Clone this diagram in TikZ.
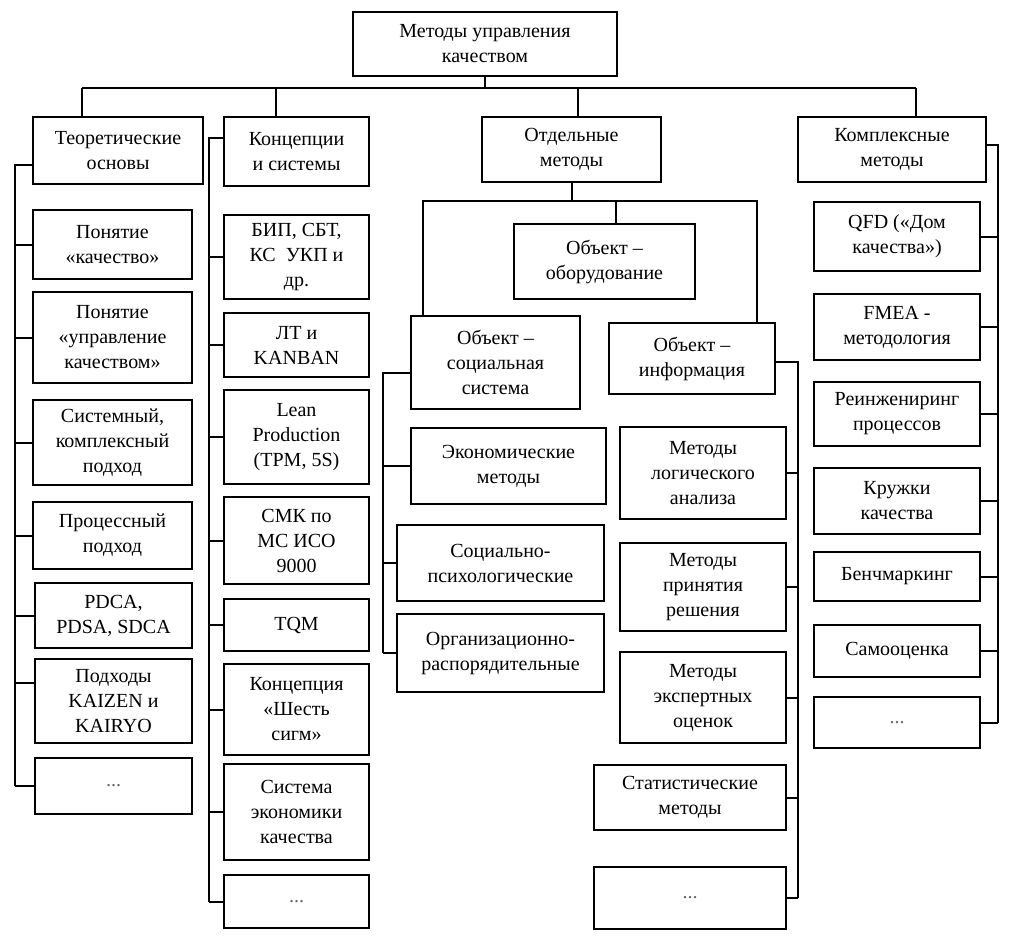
\documentclass[tikz,border=0pt]{standalone}
\usepackage{fontspec}
\setmainfont{Liberation Serif}

\begin{document}
\begin{tikzpicture}[x=1pt, y=-1pt, line width=2pt,
    box/.style={draw, anchor=north west, align=center, inner sep=1pt,
                font=\fontsize{20}{25}\selectfont},
    more/.style={box, text=black!60}]

    % Fix the page size to the reference
    \useasboundingbox (0,0) rectangle (1017,938);

    % Top box
    \node[box, minimum width=264, minimum height=64] (top) at (352,11) {Методы управления\\качеством};

    % First level
    \node[box, minimum width=170, minimum height=67] (teor) at (32,116) {Теоретические\\основы};
    \node[box, minimum width=145, minimum height=69] (konc) at (223,116) {Концепции\\и системы};
    \node[box, minimum width=179, minimum height=65] (otd) at (481,116) {Отдельные\\методы};
    \node[box, minimum width=188, minimum height=65] (kompl) at (797,116) {Комплексные\\методы};

    % Column 1: theoretical basis
    \node[box, minimum width=159, minimum height=69] (pon1) at (32,209) {Понятие\\«качество»};
    \node[box, minimum width=159, minimum height=91] (pon2) at (32,291) {Понятие\\«управление\\качеством»};
    \node[box, minimum width=159, minimum height=85] (sys) at (32,399) {Системный,\\комплексный\\подход};
    \node[box, minimum width=159, minimum height=67] (proc) at (32,501) {Процессный\\подход};
    \node[box, minimum width=157, minimum height=65] (pdca) at (34,582) {PDCA,\\PDSA, SDCA};
    \node[box, minimum width=157, minimum height=84] (kai) at (34,658) {Подходы\\KAIZEN и\\KAIRYO};
    \node[more, minimum width=157, minimum height=56] (dots1) at (34,757) {...};

    % Column 2: concepts and systems
    \node[box, minimum width=145, minimum height=84] (bip) at (223,214) {БИП, СБТ,\\КС\ \ УКП и\\др.};
    \node[box, minimum width=145, minimum height=64] (lt) at (223,312) {ЛТ и\\KANBAN};
    \node[box, minimum width=145, minimum height=94] (lean) at (223,389) {Lean\\Production\\(TPM, 5S)};
    \node[box, minimum width=145, minimum height=87] (smk) at (223,496) {СМК по\\МС ИСО\\9000};
    \node[box, minimum width=145, minimum height=52] (tqm) at (223,598) {TQM};
    \node[box, minimum width=145, minimum height=91] (six) at (223,663) {Концепция\\«Шесть\\сигм»};
    \node[box, minimum width=145, minimum height=96] (econ) at (223,763) {Система\\экономики\\качества};
    \node[more, minimum width=145, minimum height=53] (dots2) at (223,874) {...};

    % Middle: separate methods
    \node[box, minimum width=181, minimum height=75] (equip) at (513,223) {Объект –\\оборудование};
    \node[box, minimum width=169, minimum height=93] (soc) at (410,315) {Объект –\\социальная\\система};
    \node[box, minimum width=166, minimum height=71] (inf) at (608,322) {Объект –\\информация};

    \node[box, minimum width=195, minimum height=76] (ek) at (410,427) {Экономические\\методы};
    \node[box, minimum width=207, minimum height=76] (psy) at (396,524) {Социально-\\психологические};
    \node[box, minimum width=207, minimum height=78] (org) at (396,613) {Организационно-\\распорядительные};

    \node[box, minimum width=166, minimum height=92] (logic) at (619,426) {Методы\\логического\\анализа};
    \node[box, minimum width=166, minimum height=88] (prin) at (619,542) {Методы\\принятия\\решения};
    \node[box, minimum width=166, minimum height=91] (expert) at (619,651) {Методы\\экспертных\\оценок};
    \node[box, minimum width=192, minimum height=65] (stat) at (593,764) {Статистические\\методы};
    \node[more, minimum width=192, minimum height=62] (dots3) at (593,866) {...};

    % Right column: complex methods
    \node[box, minimum width=166, minimum height=69] (qfd) at (813,201) {QFD («Дом\\качества»)};
    \node[box, minimum width=166, minimum height=66] (fmea) at (813,293) {FMEA -\\методология};
    \node[box, minimum width=166, minimum height=64] (reeng) at (813,381) {Реинжениринг\\процессов};
    \node[box, minimum width=166, minimum height=66] (circ) at (813,467) {Кружки\\качества};
    \node[box, minimum width=166, minimum height=49] (bench) at (813,551) {Бенчмаркинг};
    \node[box, minimum width=166, minimum height=52] (self) at (813,624) {Самооценка};
    \node[more, minimum width=166, minimum height=51] (dots4) at (813,696) {...};

    % Bus under the top box
    \coordinate (b1) at (82,88);
    \coordinate (b2) at (276,88);
    \coordinate (b3) at (578,88);
    \coordinate (b4) at (916,88);
    \draw (top.south) -- (top.south |- b1);
    \draw (b1) -- (b4);
    \draw (b1) -- (b1 |- teor.north);
    \draw (b2) -- (b2 |- konc.north);
    \draw (b3) -- (b3 |- otd.north);
    \draw (b4) -- (b4 |- kompl.north);

    % Spine of column 1
    \coordinate (s1) at (15,165);
    \coordinate (kaic) at ([yshift=18pt]kai.west);
    \draw (s1 -| teor.west) -- (s1) -- (s1 |- dots1.west);
    \draw (pon1.west) -- (pon1.west -| s1);
    \draw (pon2.west) -- (pon2.west -| s1);
    \draw (sys.west) -- (sys.west -| s1);
    \draw (proc.west) -- (proc.west -| s1);
    \draw (pdca.west) -- (pdca.west -| s1);
    \draw (kaic) -- (kaic -| s1);
    \draw (dots1.west) -- (dots1.west -| s1);

    % Spine of column 2
    \coordinate (s2) at (209,138);
    \draw (s2 -| konc.west) -- (s2) -- (s2 |- dots2.west);
    \draw (bip.west) -- (bip.west -| s2);
    \draw (lt.west) -- (lt.west -| s2);
    \draw (lean.west) -- (lean.west -| s2);
    \draw (smk.west) -- (smk.west -| s2);
    \draw (tqm.west) -- (tqm.west -| s2);
    \draw (six.west) -- (six.west -| s2);
    \draw (econ.west) -- (econ.west -| s2);
    \draw (dots2.west) -- (dots2.west -| s2);

    % Frame of the three objects
    \coordinate (ml) at (423,201);
    \coordinate (me) at (616,201);
    \coordinate (mr) at (757,201);
    \draw (otd.south) -- (otd.south |- ml);
    \draw (ml |- soc.north) -- (ml) -- (mr) -- (mr |- inf.north);
    \draw (me) -- (me |- equip.north);

    % Spine of the social system
    \coordinate (s3) at (383,373);
    \draw (s3 -| soc.west) -- (s3) -- (s3 |- org.west);
    \draw (ek.west) -- (ek.west -| s3);
    \draw (psy.west) -- (psy.west -| s3);
    \draw (org.west) -- (org.west -| s3);

    % Spine of the information
    \coordinate (s4) at (798,362);
    \draw (s4 -| inf.east) -- (s4) -- (s4 |- dots3.east);
    \draw (logic.east) -- (logic.east -| s4);
    \draw (prin.east) -- (prin.east -| s4);
    \draw (expert.east) -- (expert.east -| s4);
    \draw (stat.east) -- (stat.east -| s4);
    \draw (dots3.east) -- (dots3.east -| s4);

    % Spine of the complex methods
    \coordinate (s5) at (998,145);
    \draw (s5 -| kompl.east) -- (s5) -- (s5 |- dots4.east);
    \draw (qfd.east) -- (qfd.east -| s5);
    \draw (fmea.east) -- (fmea.east -| s5);
    \draw (reeng.east) -- (reeng.east -| s5);
    \draw (circ.east) -- (circ.east -| s5);
    \draw (bench.east) -- (bench.east -| s5);
    \draw (self.east) -- (self.east -| s5);
    \draw (dots4.east) -- (dots4.east -| s5);

\end{tikzpicture}
\end{document}
